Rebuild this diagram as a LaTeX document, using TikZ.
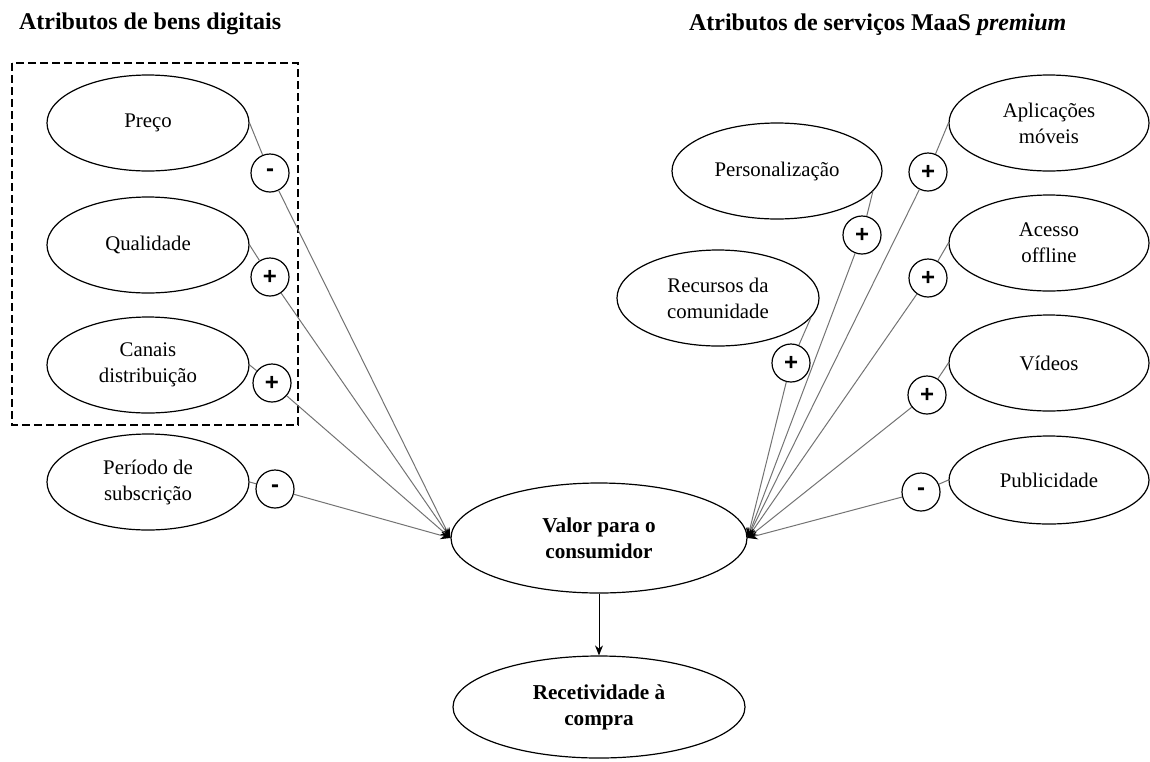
\documentclass[tikz,border=0pt]{standalone}
\usepackage{fontspec}
\setmainfont{Liberation Serif}
\newfontfamily\signfont{Liberation Sans}
\usetikzlibrary{shapes.geometric,arrows.meta}
\begin{document}
\begin{tikzpicture}[x=0.5pt,y=-0.5pt,
  attr/.style={draw=black, line width=0.6pt, ellipse, minimum width=101pt, minimum height=48pt, inner sep=0pt, align=center, font=\fontsize{10.4}{13}\selectfont},
  main/.style={attr, minimum width=148pt, minimum height=55pt, font=\bfseries\fontsize{10.6}{13}\selectfont},
  sign/.style={draw=black, line width=0.6pt, circle, fill=white, minimum size=19pt, inner sep=0pt, font=\signfont\bfseries\fontsize{12}{14}\selectfont},
  link/.style={draw=black!55, line width=0.5pt},
  tip/.style={-{Stealth[length=5pt,width=4pt,color=black]}},
  title/.style={anchor=west, font=\bfseries\fontsize{12}{14}\selectfont},
  group/.style={draw=black, line width=1.1pt, dash pattern=on 4pt off 2pt}
]
\useasboundingbox (0,0) rectangle (1150,761);

% titles
\node[title] (t1) at (12,24) {Atributos de bens digitais};
\node[title] (t2) at (682,25) {Atributos de serviços MaaS \textit{premium}};

% dashed group
\draw[group] (12,63) rectangle (298,425);

% left attributes
\node[attr] (preco) at (148,123) {Preço};
\node[attr] (qual) at (148,245) {Qualidade};
\node[attr] (canais) at (148,365) {Canais\\distribuição};
\node[attr] (periodo) at (148,482) {Período de\\subscrição};

% right attributes
\node[attr, minimum width=100pt] (apl) at (1049,123) {Aplicações\\móveis};
\node[attr, minimum width=105pt] (pers) at (777,171) {Personalização};
\node[attr, minimum width=100pt] (aces) at (1049,243) {Acesso\\offline};
\node[attr] (recur) at (718,298) {Recursos da\\comunidade};
\node[attr, minimum width=100pt] (vid) at (1049,363) {Vídeos};
\node[attr, minimum width=100pt, minimum height=44pt] (pub) at (1049,480) {Publicidade};

% central nodes
\node[main] (valor) at (599,538) {Valor para o\\consumidor};
\node[main, minimum width=146pt, minimum height=51pt] (recet) at (599,707) {Recetividade à\\compra};

% sign circles
\node[sign] (sPre) at (270,173) {-};
\node[sign] (sQua) at (270,277) {+};
\node[sign] (sCan) at (272,383) {+};
\node[sign] (sPer) at (275,489) {-};
\node[sign] (sApl) at (928,172) {+};
\node[sign] (sPers) at (862,235) {+};
\node[sign] (sAce) at (928,278) {+};
\node[sign] (sRec) at (791,363) {+};
\node[sign] (sVid) at (927,395) {+};
\node[sign] (sPub) at (921,492) {-};

% left links
\draw[link] (preco.east) -- (sPre);
\draw[link, tip] (sPre) -- (valor.west);
\draw[link] (qual.east) -- (sQua);
\draw[link, tip] (sQua) -- (valor.west);
\draw[link] (canais.east) -- (sCan);
\draw[link, tip] (sCan) -- (valor.west);
\draw[link] (periodo.east) -- (sPer);
\draw[link, tip] (sPer) -- (valor.west);

% right links
\draw[link] (apl.west) -- (sApl);
\draw[link, tip] (sApl) -- (valor.east);
\draw[link] (pers.-12) -- (sPers);
\draw[link, tip] (sPers) -- (valor.east);
\draw[link] (aces.west) -- (sAce);
\draw[link, tip] (sAce) -- (valor.east);
\draw[link] (recur.-12) -- (sRec);
\draw[link, tip] (sRec) -- (valor.east);
\draw[link] (vid.west) -- (sVid);
\draw[link, tip] (sVid) -- (valor.east);
\draw[link] (pub.west) -- (sPub);
\draw[link, tip] (sPub) -- (valor.east);

% main arrow
\draw[line width=0.5pt, -{Stealth[length=5pt,width=4pt]}] (valor) -- (recet);
\end{tikzpicture}
\end{document}
